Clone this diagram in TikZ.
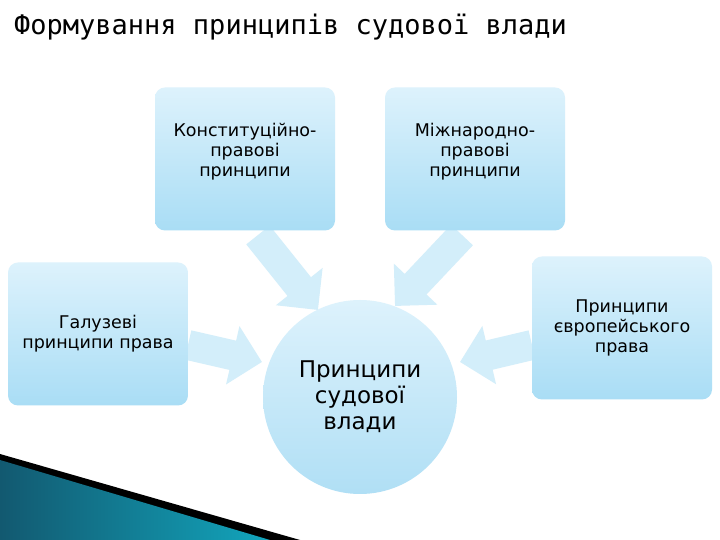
\documentclass[tikz,border=0pt]{standalone}
\usepackage{fontspec}
\setmainfont{DejaVu Sans}
\newfontfamily\titlefont{DejaVu Sans Mono}
\usetikzlibrary{arrows.meta}
\definecolor{boxtop}{HTML}{DDF2FC}
\definecolor{boxbot}{HTML}{A9DDF5}
\definecolor{ctop}{HTML}{DDF2FC}
\definecolor{cbot}{HTML}{B0DFF5}
\definecolor{arr}{HTML}{D3EEFA}
\definecolor{teal}{HTML}{1A7FA0}
\tikzset{
  pbox/.style={rounded corners=10pt, top color=boxtop, bottom color=boxbot, draw=none,
    minimum width=180pt, minimum height=143pt, align=center, font=\fontsize{17.5}{20}\selectfont, inner sep=2pt},
  barrow/.style={line width=30pt, draw=arr, -{Triangle[length=30pt,width=58pt]}}
}
\begin{document}
\begin{tikzpicture}[x=1pt,y=1pt]
\useasboundingbox (0,0) rectangle (720,540);
\fill[white] (0,0) rectangle (720,540);
\fill[black] (0,86) -- (300,0) -- (0,0) -- cycle;
\shade[left color=teal!70!black, right color=teal!70!cyan] (0,80) -- (270,0) -- (0,0) -- cycle;
\node[anchor=base west, inner sep=0pt, font=\titlefont\fontsize{27}{30}\selectfont] (title) at (14,505) {Формування принципів судової влади};
\coordinate (a1s) at (258,305); \coordinate (a1e) at (318,230);
\coordinate (a2s) at (462,305); \coordinate (a2e) at (395,234);
\coordinate (a3s) at (188,195); \coordinate (a3e) at (262,178);
\coordinate (a4s) at (532,195); \coordinate (a4e) at (460,178);
\draw[barrow] (a1s) -- (a1e);
\draw[barrow] (a2s) -- (a2e);
\draw[barrow] (a3s) -- (a3e);
\draw[barrow] (a4s) -- (a4e);
\node[pbox] (k) at (245,381) {};
\node[align=center, font=\fontsize{17.5}{20}\selectfont, anchor=north] (kt) at (245,420) {Конституційно-\\правові\\принципи};
\node[pbox] (m) at (475,381) {};
\node[align=center, font=\fontsize{17.5}{20}\selectfont, anchor=north] (mt) at (475,420) {Міжнародно-\\правові\\принципи};
\node[pbox] (g) at (98,206) {Галузеві\\принципи права};
\node[pbox] (e) at (622,212) {Принципи\\європейського\\права};
\node[circle, minimum size=194pt, top color=ctop, bottom color=cbot, align=center,
  font=\fontsize{23}{26}\selectfont] (c) at (360,143) {Принципи\\судової\\влади};
\end{tikzpicture}
\end{document}
